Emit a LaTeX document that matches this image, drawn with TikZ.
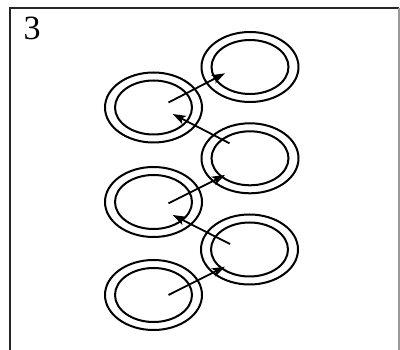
\documentclass[tikz,border=0pt]{standalone}
\usepackage{fontspec}
\setmainfont{Liberation Serif}
\usetikzlibrary{arrows.meta,calc}
\begin{document}
\begin{tikzpicture}[x=1pt,y=-1pt,
  ring/.style={line width=2pt},
  link/.style={line width=1.8pt,-{Stealth[length=13pt,width=9pt,inset=3pt]}},
  framebar/.style={line width=2pt,black!85}]
\useasboundingbox (0,0) rectangle (400,350);

% open frame: left and top dark, right thin grey
\draw[framebar] (10,350) -- (10,8) -- (399,8);
\draw[line width=1.2pt,black!40] (399,8) -- (399,350);

\node[anchor=base west,inner sep=0pt,font=\fontsize{34}{34}\selectfont] (num) at (23.5,40) {3};

% ring centres
\coordinate (L1) at (153.5,107.5);
\coordinate (L2) at (153.5,202);
\coordinate (L3) at (153.5,295);
\coordinate (R1) at (250,67);
\coordinate (R2) at (250,158.3);
\coordinate (R3) at (249.5,249.5);

% double rings
\foreach \c in {L1,L2,L3,R1,R2,R3}{
  \draw[ring] (\c) ellipse [x radius=48.5, y radius=35];
  \draw[ring] (\c) ellipse [x radius=38.5, y radius=27];
}

% zig-zag links
\draw[link] ($(L1)+(15,-5)$) -- ($(R1)+(-25,6.3)$);
\draw[link] ($(R2)+(-20.5,-15)$) -- ($(L1)+(19.2,6.5)$);
\draw[link] ($(L2)+(15,1.3)$) -- ($(R2)+(-25,16.7)$);
\draw[link] ($(R3)+(-19.5,-5.5)$) -- ($(L2)+(19.2,13)$);
\draw[link] ($(L3)+(15,0)$) -- ($(R3)+(-24.5,17.2)$);
\end{tikzpicture}
\end{document}
